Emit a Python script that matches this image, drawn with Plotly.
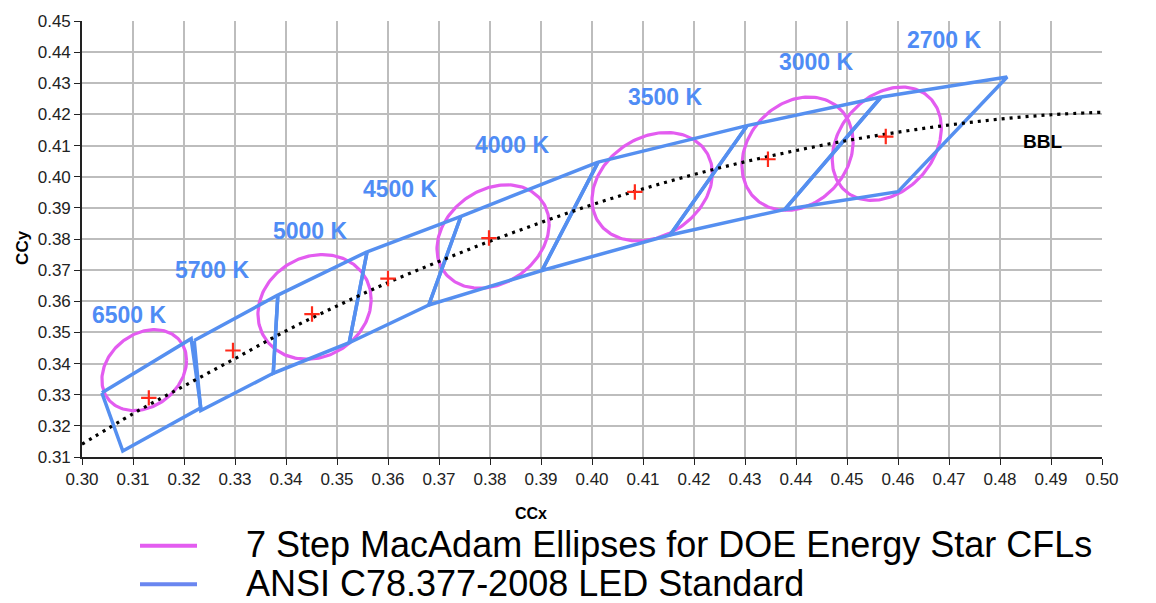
import numpy as np
import plotly.graph_objects as go

# ---------------- data ----------------
cct_labels = ["6500 K", "5700 K", "5000 K", "4500 K", "4000 K", "3500 K", "3000 K", "2700 K"]

# ANSI quadrangle corners (x list, y list) per CCT
quad_x = [
    [0.3039, 0.3214, 0.3233, 0.3080],
    [0.3220, 0.3384, 0.3375, 0.3233],
    [0.3384, 0.3559, 0.3524, 0.3375],
    [0.3559, 0.3743, 0.3680, 0.3524],
    [0.3743, 0.4012, 0.3902, 0.3680],
    [0.4012, 0.4304, 0.4153, 0.3902],
    [0.4304, 0.4567, 0.4378, 0.4153],
    [0.4567, 0.4814, 0.4600, 0.4378],
]
quad_y = [
    [0.3306, 0.3480, 0.3258, 0.3119],
    [0.3474, 0.3620, 0.3369, 0.3249],
    [0.3620, 0.3759, 0.3467, 0.3369],
    [0.3759, 0.3873, 0.3588, 0.3467],
    [0.3873, 0.4047, 0.3699, 0.3588],
    [0.4047, 0.4164, 0.3813, 0.3699],
    [0.4164, 0.4256, 0.3895, 0.3813],
    [0.4256, 0.4320, 0.3952, 0.3895],
]

# nominal centres (red +)
center_x = [0.3131, 0.3296, 0.3451, 0.3600, 0.3798, 0.4084, 0.4345, 0.4576]
center_y = [0.3290, 0.3442, 0.3559, 0.3673, 0.3803, 0.3951, 0.4056, 0.4129]

# 7-step MacAdam ellipses: centre, half-width in x, half-height in y, phase (deg)
ell_cx = [0.3122, 0.3456, 0.3806, 0.4118, 0.4403, 0.4578]
ell_cy = [0.3379, 0.3582, 0.3808, 0.3968, 0.4074, 0.4106]
ell_hx = [0.0083, 0.0111, 0.0110, 0.0118, 0.0109, 0.0107]
ell_hy = [0.0130, 0.0168, 0.0166, 0.0174, 0.0182, 0.0182]
ell_phase = [76, 82, 76, 76, 78, 74]

# black body locus
bbl_x = [0.30, 0.31, 0.32, 0.33, 0.34, 0.35, 0.36, 0.37, 0.38, 0.39, 0.40,
         0.41, 0.42, 0.43, 0.44, 0.45, 0.46, 0.47, 0.48, 0.49, 0.50]
bbl_y = [0.3141, 0.3239, 0.3328, 0.3416, 0.3505, 0.3585, 0.3660, 0.3728, 0.3793, 0.3853, 0.3910,
         0.3961, 0.4007, 0.4048, 0.4084, 0.4116, 0.4143, 0.4166, 0.4185, 0.4199, 0.4207]

x_ticks = [round(0.30 + 0.01 * i, 2) for i in range(21)]
y_ticks = [round(0.31 + 0.01 * i, 2) for i in range(15)]

legend_names = ["7 Step MacAdam Ellipses for DOE Energy Star CFLs", "ANSI C78.377-2008 LED Standard"]

# label anchor positions (layout)
lab_x = [0.3094, 0.3255, 0.3449, 0.3624, 0.3845, 0.4145, 0.4441, 0.4692]
lab_y = [0.3556, 0.3699, 0.3825, 0.3962, 0.4101, 0.4256, 0.4367, 0.4440]

PINK = "#e35cf0"
BLUE = "#558ff0"
LBLUE = "#4f8cf5"
FONT = "Arial, Liberation Sans, sans-serif"

fig = go.Figure()

# ellipses
ex, ey = [], []
t = np.linspace(0, 2 * np.pi, 181)
for cx, cy, hx, hy, ph in zip(ell_cx, ell_cy, ell_hx, ell_hy, ell_phase):
    p = np.deg2rad(ph)
    ex += list(cx + hx * np.cos(t)) + [None]
    ey += list(cy + hy * np.cos(t - p)) + [None]
fig.add_trace(go.Scatter(x=ex, y=ey, mode="lines", line=dict(color=PINK, width=3.2),
                         name=legend_names[0], showlegend=False, hoverinfo="skip"))

# quadrangles
qx, qy = [], []
for xs, ys in zip(quad_x, quad_y):
    qx += xs + [xs[0], None]
    qy += ys + [ys[0], None]
fig.add_trace(go.Scatter(x=qx, y=qy, mode="lines", line=dict(color=BLUE, width=3.5),
                         name=legend_names[1], showlegend=False, hoverinfo="skip"))

# BBL
fig.add_trace(go.Scatter(x=bbl_x, y=bbl_y, mode="lines",
                         line=dict(color="black", width=3.2, dash="3px,5px", shape="spline"),
                         showlegend=False, hoverinfo="skip"))

# centres
fig.add_trace(go.Scatter(x=center_x, y=center_y, mode="markers",
                         marker=dict(symbol="cross-thin", size=11, line=dict(color="#ff2a1a", width=2.2)),
                         showlegend=False, hoverinfo="skip"))

# CCT labels
for lx, ly, txt in zip(lab_x, lab_y, cct_labels):
    fig.add_annotation(x=lx, y=ly, text="<b>%s</b>" % txt, showarrow=False,
                       font=dict(family=FONT, size=23, color=LBLUE), xanchor="center", yanchor="middle")
fig.add_annotation(x=0.4884, y=0.4112, text="<b>BBL</b>", showarrow=False,
                   font=dict(family=FONT, size=19, color="black"), xanchor="center", yanchor="middle")

# axis titles
W, H = 1156, 603
L, R, T, B = 82, 54, 15, 146
pw, ph = W - L - R, H - T - B


def px2paper(px, py):
    return (px - L) / pw, (H - B - py) / ph


ax_, ay_ = px2paper(531, 514)
fig.add_annotation(x=ax_, y=ay_, xref="paper", yref="paper", text="<b>CCx</b>", showarrow=False,
                   xanchor="center", yanchor="middle",
                   font=dict(family=FONT, size=16, color="black"))
ax_, ay_ = px2paper(23, 245)
fig.add_annotation(x=ax_, y=ay_, xref="paper", yref="paper", text="<b>CCy</b>", showarrow=False, textangle=-90,
                   xanchor="center", yanchor="middle",
                   font=dict(family=FONT, size=17, color="black"))

# legend (drawn manually)
for i, (col, name) in enumerate(zip([PINK, "#6a86f0"], legend_names)):
    yy = 547 + 39 * i
    x0, y0 = px2paper(140, yy)
    x1, _ = px2paper(197, yy)
    fig.add_shape(type="line", xref="paper", yref="paper", x0=x0, x1=x1, y0=y0, y1=y0,
                  line=dict(color=col, width=4))
    tx, ty = px2paper(245, yy - 1)
    fig.add_annotation(x=tx, y=ty, xref="paper", yref="paper", text=name, showarrow=False,
                       xanchor="left", yanchor="middle", borderpad=0,
                       font=dict(family=FONT, size=36, color="black"))

axis_common = dict(showgrid=True, gridcolor="#bdbdbd", gridwidth=1.6, showline=True, linecolor="#222",
                   linewidth=1.6, ticks="outside", ticklen=6, tickcolor="#222", tickwidth=1.4,
                   zeroline=False, tickfont=dict(family=FONT, size=17, color="#222"))

fig.update_xaxes(range=[0.30, 0.50], tickvals=x_ticks, ticktext=["%.2f" % v for v in x_ticks], **axis_common)
fig.update_yaxes(range=[0.31, 0.45], tickvals=y_ticks, ticktext=["%.2f" % v for v in y_ticks], **axis_common)

fig.update_layout(width=W, height=H, margin=dict(l=L, r=R, t=T, b=B), plot_bgcolor="white",
                  paper_bgcolor="white", showlegend=False)

fig.write_html("out.html")
